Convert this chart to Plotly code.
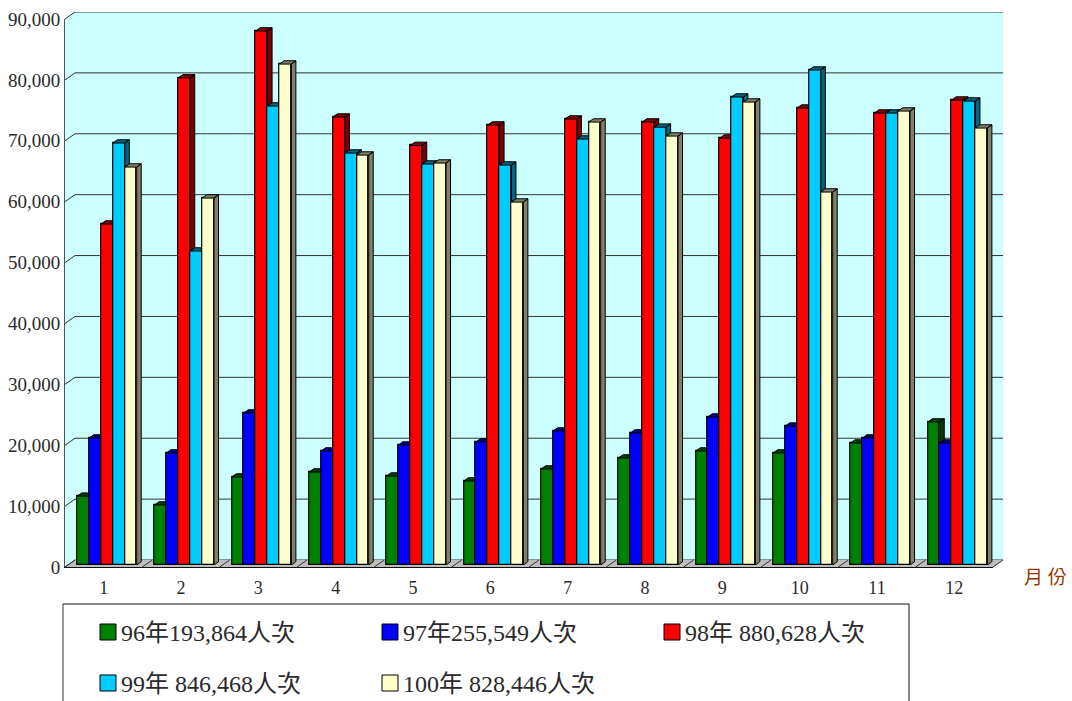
import plotly.graph_objects as go

W, H = 1072, 701
months = list(range(1, 13))
names = ["96年193,864人次", "97年255,549人次", "98年 880,628人次", "99年 846,468人次", "100年 828,446人次"]
v96 = [11300, 9850, 14450, 15270, 14600, 13800, 15760, 17570, 18720, 18390, 20030, 23480]
v97 = [20850, 18390, 24960, 18720, 19700, 20200, 22000, 21680, 24300, 22800, 20850, 20030]
v98 = [56000, 80000, 87700, 73560, 68900, 72250, 73240, 72750, 70100, 75040, 74220, 76350]
v99 = [69300, 51560, 75370, 67650, 65850, 65680, 69950, 71900, 76850, 81280, 74220, 76190]
v100 = [65350, 60260, 82270, 67320, 66010, 59600, 72740, 70440, 76030, 61250, 74550, 71760]
series = [v96, v97, v98, v99, v100]
front_colors = ["#008000", "#0000FF", "#FF0000", "#00CCFF", "#FFFFCC"]
dark_colors = ["#004000", "#000080", "#800000", "#006680", "#808066"]
yticks = list(range(0, 100000, 10000))

PX_X = 928 / 12.0        # px per category
PX_Y = 548 / 90000.0     # px per value
bar_w = 11.9 / PX_X
bdx, bdy = 4.5 / PX_X, 3.3 / PX_Y
fdx, fdy = 10 / PX_X, 7 / PX_Y
XR, YR = [0.5, 12.5], [0, 90000]
FONT = "Liberation Serif, Noto Sans CJK TC, serif"
INK = "#2a2a2a"

def xdom(a, b): return [a / W, b / W]
def ydom(bottom, top): return [(H - bottom) / H, (H - top) / H]
def px(x): return x / W
def py(y): return (H - y) / H
def path(pts, close=True):
    s = "M" + " L".join(f"{px(x):.5f},{py(y):.5f}" for x, y in pts)
    return s + (" Z" if close else "")

fig = go.Figure()
layout = dict(
    width=W, height=H, autosize=False, margin=dict(l=0, r=0, t=0, b=0, pad=0, autoexpand=False),
    paper_bgcolor="white", plot_bgcolor="rgba(0,0,0,0)", showlegend=False, bargap=0,
    font=dict(family=FONT, color=INK),
    # back wall
    xaxis=dict(domain=xdom(75, 1003), range=XR, visible=False, anchor="y"),
    yaxis=dict(domain=ydom(560, 12), range=YR, visible=False, anchor="x"),
    # front axes with labels
    xaxis2=dict(domain=xdom(65, 993), range=XR, tickvals=months, ticktext=[str(m) for m in months], ticks="", showgrid=False,
                zeroline=False, showline=True, linecolor="#111111", linewidth=1, anchor="y2", ticklabelstandoff=4,
                tickfont=dict(size=18, family=FONT, color=INK)),
    yaxis2=dict(domain=ydom(567, 19), range=YR, tickvals=yticks, tickformat=",d", ticks="", showgrid=False, zeroline=False,
                showline=True, linecolor="#555555", linewidth=1, anchor="x2",
                tickfont=dict(size=19, family=FONT, color=INK)),
)

# back-wall grid
gx, gy = [], []
for t in yticks:
    gx += [XR[0], XR[1], None]
    gy += [t, t, None]
fig.add_trace(go.Scatter(x=gx, y=gy, xaxis="x", yaxis="y", mode="lines", line=dict(color="#333333", width=1),
                         hoverinfo="skip", cliponaxis=False))

# floor separators and left-wall diagonals
sx, sy = [], []
for k in range(13):
    sx += [0.5 + k, 0.5 + k + fdx, None]
    sy += [0, fdy, None]
for t in yticks:
    sx += [0.5, 0.5 + fdx, None]
    sy += [t, t + fdy, None]
fig.add_trace(go.Scatter(x=sx, y=sy, xaxis="x2", yaxis="y2", mode="lines", line=dict(color="#333333", width=1),
                         hoverinfo="skip", cliponaxis=False))

# one stacked-in-depth subplot per series, so later bars cover earlier side faces
for i, (vals, name, fc, dc) in enumerate(zip(series, names, front_colors, dark_colors)):
    n = i + 3
    layout[f"xaxis{n}"] = dict(domain=xdom(68.3, 996.3), range=XR, visible=False, anchor=f"y{n}")
    layout[f"yaxis{n}"] = dict(domain=ydom(565, 17), range=YR, visible=False, anchor=f"x{n}")
    off = (i - 2.5) * bar_w
    fig.add_trace(go.Bar(x=months, y=vals, name=name, width=bar_w, offset=off, xaxis=f"x{n}", yaxis=f"y{n}",
                         marker=dict(color=fc, line=dict(color="black", width=1.2)), cliponaxis=False))
    fx, fy = [], []
    for m, v in zip(months, vals):
        x0, x1 = m + off, m + off + bar_w
        fx += [x0, x0 + bdx, x1 + bdx, x1, x0, None, x1, x1 + bdx, x1 + bdx, x1, x1, None]
        fy += [v, v + bdy, v + bdy, v, v, None, 0, bdy, v + bdy, v, 0, None]
    fig.add_trace(go.Scatter(x=fx, y=fy, xaxis=f"x{n}", yaxis=f"y{n}", mode="lines", fill="toself", fillcolor=dc,
                             line=dict(color="black", width=1), hoverinfo="skip", cliponaxis=False))

shapes = [
    dict(type="path", xref="paper", yref="paper", layer="below", line=dict(width=0), fillcolor="#CCFFFF",
         path=path([(65, 19), (75, 12), (1003, 12), (1003, 560), (993, 567), (65, 567)])),
    dict(type="path", xref="paper", yref="paper", layer="below", line=dict(width=0), fillcolor="#BDBDBD",
         path=path([(65, 567), (75, 560), (1003, 560), (993, 567)])),
    dict(type="path", xref="paper", yref="paper", layer="below", line=dict(color="#333333", width=1),
         path=path([(65, 19), (75, 12)], close=False)),
    dict(type="path", xref="paper", yref="paper", layer="below", line=dict(color="#333333", width=1),
         path=path([(993, 567), (1003, 560)], close=False)),
    # legend frame, running off the bottom of the picture
    dict(type="path", xref="paper", yref="paper", line=dict(color="#777777", width=1.5),
         path=path([(63, 701), (63, 604)], close=False)),
    dict(type="path", xref="paper", yref="paper", line=dict(color="#111111", width=1),
         path=path([(63, 604), (909, 604), (909, 701)], close=False)),
]

legend_slots = [(100, 632), (382, 632), (664, 632), (100, 683), (382, 683)]
annotations = [dict(text="月 份", x=px(1045.5), y=py(577), xref="paper", yref="paper", showarrow=False,
                    font=dict(size=19, color="#993300", family=FONT), xanchor="center", yanchor="middle")]
for (lx, ly), name, fc in zip(legend_slots, names, front_colors):
    shapes.append(dict(type="rect", xref="paper", yref="paper", x0=px(lx), x1=px(lx + 16), y0=py(ly + 8), y1=py(ly - 8),
                       fillcolor=fc, line=dict(color="black", width=1)))
    annotations.append(dict(text=name, x=px(lx + 19), y=py(ly + 1), xref="paper", yref="paper", showarrow=False,
                            xanchor="left", yanchor="middle", align="left",
                            font=dict(size=24, color=INK, family=FONT)))

fig.update_layout(**layout, shapes=shapes, annotations=annotations)
fig.write_html("out.html", config=dict(displayModeBar=False),
               post_script="document.body.style.margin='0';document.body.style.overflow='hidden';")
